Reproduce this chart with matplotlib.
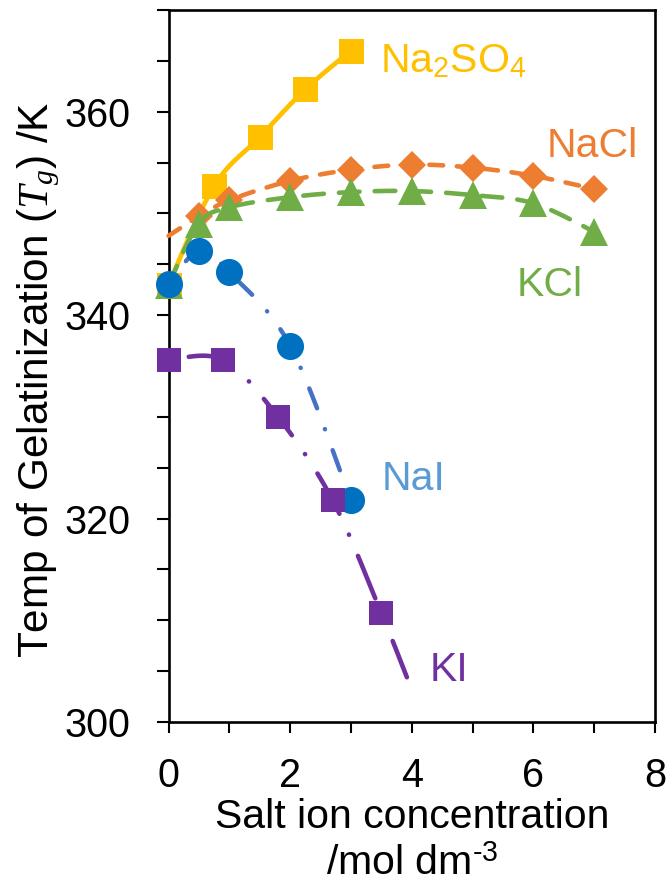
import matplotlib
matplotlib.use("Agg")
import matplotlib.pyplot as plt
import numpy as np
from matplotlib.ticker import MultipleLocator

plt.rcParams["font.family"] = ["Liberation Sans", "DejaVu Sans"]
plt.rcParams["mathtext.fontset"] = "custom"
plt.rcParams["mathtext.rm"] = "Liberation Sans"
plt.rcParams["mathtext.it"] = "Liberation Serif:italic"

# concentration (mol dm-3) vs gelatinization temperature (K)
na2so4_x = [0.0, 0.75, 1.5, 2.25, 3.0]
na2so4_y = [343.0, 352.7, 357.5, 362.2, 366.0]

nacl_x = [0.0, 0.5, 1.0, 2.0, 3.0, 4.0, 5.0, 6.0, 7.0]
nacl_y = [347.8, 349.7, 351.3, 353.2, 354.3, 354.8, 354.5, 353.7, 352.4]

kcl_x = [0.0, 0.5, 1.0, 2.0, 3.0, 4.0, 5.0, 6.0, 7.0]
kcl_y = [343.0, 349.0, 350.6, 351.6, 352.1, 352.2, 351.8, 351.0, 348.2]

nai_x = [0.0, 0.5, 1.0, 2.0, 3.0]
nai_y = [343.1, 346.3, 344.2, 337.0, 321.8]

ki_x = [0.0, 0.9, 1.8, 2.7, 3.5, 3.92]
ki_y = [335.6, 335.6, 330.0, 321.8, 310.7, 304.4]


def smooth(x, y, n=30):
    # Excel-style smoothed line: cubic Bezier through the points
    pts = np.column_stack([x, y]).astype(float)
    out = [pts[0]]
    t = np.linspace(0, 1, n)[1:, None]
    for i in range(len(pts) - 1):
        p0 = pts[max(i - 1, 0)]
        p1, p2 = pts[i], pts[i + 1]
        p3 = pts[min(i + 2, len(pts) - 1)]
        c1 = p1 + (p2 - p0) / 6
        c2 = p2 - (p3 - p1) / 6
        seg = (1 - t) ** 3 * p1 + 3 * (1 - t) ** 2 * t * c1 + 3 * (1 - t) * t ** 2 * c2 + t ** 3 * p2
        out.extend(seg)
    out = np.array(out)
    return out[:, 0], out[:, 1]


W, H = 667, 884
fig = plt.figure(figsize=(W / 100, H / 100), dpi=100)
ax = fig.add_axes([168.5 / W, 1 - 722 / H, (655 - 168.5) / W, (722 - 10) / H])
ax.set_xlim(0, 8)
ax.set_ylim(300, 370)


def end_phase(sx, sy, lw, seq, at):
    # dash offset so that the line ends `at` units into the pattern
    p = ax.transData.transform(np.column_stack([sx, sy]))
    length = np.hypot(*np.diff(p, axis=0).T).sum() * 72 / fig.dpi / lw
    return (at - length) % sum(seq)


series = [
    # x, y, line colour, marker colour, marker, size, dashes, marker slice, lw, end phase
    (na2so4_x, na2so4_y, "#FFC000", "#FFC000", "s", 18, None, slice(None), 3.4, None),
    (nacl_x, nacl_y, "#ED7D31", "#ED7D31", "D", 14, (3.0, 3.0), slice(1, None), 3.3, None),
    (kcl_x, kcl_y, "#70AD47", "#70AD47", "^", 20, (4.5, 3.3), slice(None), 3.3, None),
    (nai_x, nai_y, "#4472C4", "#0070C0", "o", 19.5, (4.8, 5.0, 0.05, 5.0), slice(None), 3.2, 12.0),
    (ki_x, ki_y, "#7030A0", "#7030A0", "s", 17, (10.0, 5.0, 0.05, 5.0), slice(0, 5), 3.3, 8.5),
]

for z, (xs, ys, lc, mc, mk, ms, dash, msel, lw, at) in enumerate(series):
    sx, sy = smooth(xs, ys)
    line, = ax.plot(sx, sy, color=lc, lw=lw, zorder=2 + 2 * z,
                    solid_capstyle="round", solid_joinstyle="round",
                    dash_capstyle="round", clip_on=False)
    if dash is not None:
        offset = 0 if at is None else end_phase(sx, sy, lw, dash, at)
        line.set_linestyle((offset, dash))
    ax.plot(np.array(xs)[msel], np.array(ys)[msel], ls="none", marker=mk,
            markersize=ms, color=mc, markeredgewidth=0, zorder=3 + 2 * z, clip_on=False)

label_fs = 29.5
ax.text(3.48, 363.9, r"Na$_2$SO$_4$", color="#FFC000", fontsize=label_fs, va="baseline")
ax.text(6.21, 355.5, "NaCl", color="#ED7D31", fontsize=label_fs, va="baseline")
ax.text(5.73, 341.9, "KCl", color="#70AD47", fontsize=label_fs, va="baseline")
ax.text(3.50, 322.8, "NaI", color="#5B9BD5", fontsize=label_fs, va="baseline")
ax.text(4.30, 304.0, "KI", color="#7030A0", fontsize=label_fs, va="baseline")

ax.xaxis.set_major_locator(MultipleLocator(2))
ax.xaxis.set_minor_locator(MultipleLocator(1))
ax.yaxis.set_major_locator(MultipleLocator(20))
ax.yaxis.set_minor_locator(MultipleLocator(5))

for side in ax.spines.values():
    side.set_linewidth(1.9)
    side.set_color("black")

ax.tick_params(which="both", direction="out", width=1.5, labelsize=28.5)
ax.tick_params(axis="y", which="both", length=8.6, pad=19)
ax.tick_params(axis="x", which="both", length=8, pad=17)

# axis titles placed by their baselines
xc = (168.5 + 655) / 2 / W
fig.text(xc, 1 - 828 / H, "Salt ion concentration", fontsize=29.5,
         ha="center", va="baseline")
fig.text(xc, 1 - 875 / H, r"/mol dm$^{\text{-3}}$", fontsize=29.5,
         ha="center", va="baseline")
fig.text(48 / W, 1 - 380 / H, "Temp of Gelatinization ($T_g$) /K", rotation=90,
         rotation_mode="anchor", fontsize=30.5, ha="center", va="baseline")

fig.savefig("out.png", dpi=100)
